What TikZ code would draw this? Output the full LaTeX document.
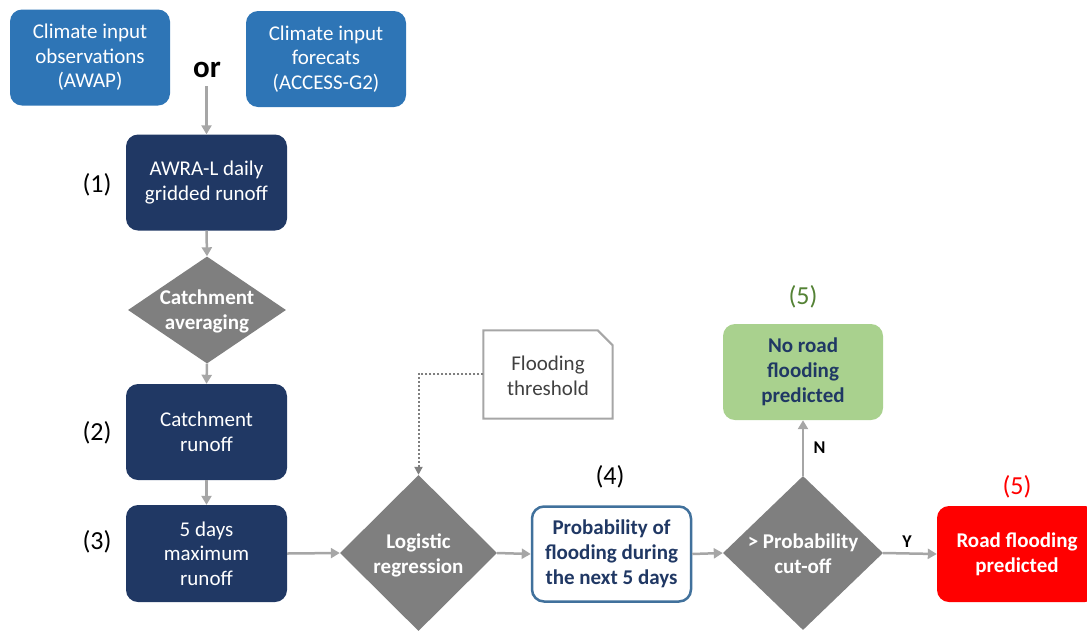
\documentclass[tikz,border=0pt]{standalone}
\usepackage{fontspec}
\setmainfont{Carlito}
\usetikzlibrary{shapes.geometric,arrows.meta}
\definecolor{midblue}{HTML}{2E75B6}
\definecolor{navy}{HTML}{203864}
\definecolor{dgray}{HTML}{7F7F7F}
\definecolor{agray}{HTML}{A6A6A6}
\definecolor{lgreen}{HTML}{A9D18E}
\definecolor{dgreen}{HTML}{548235}
\definecolor{bordblue}{HTML}{41719C}
\definecolor{txtgray}{HTML}{404040}
\definecolor{rred}{HTML}{FF0000}
\begin{document}
\begin{tikzpicture}[x=1pt,y=-1pt,
 box/.style={rounded corners=12pt, minimum width=160pt, minimum height=96pt, inner sep=0pt, align=center, font=\fontsize{21}{24.5}\selectfont},
 boldbox/.style={box, font=\bfseries\fontsize{21}{25}\selectfont},
 inbox/.style={box, fill=midblue, text=white},
 navybox/.style={box, fill=navy, text=white},
 dia/.style={diamond, fill=dgray, inner sep=0pt},
 diatext/.style={text=white, inner sep=0pt, align=center, font=\bfseries\fontsize{21}{25}\selectfont},
 arr/.style={draw=agray, line width=2.5pt, -{Triangle[length=9pt,width=10pt]}},
 num/.style={font=\fontsize{26}{30}\selectfont},
 yn/.style={font=\bfseries\fontsize{18}{20}\selectfont, text=black},
]
\useasboundingbox (0,0) rectangle (1087,630);
\clip (0,0) rectangle (1087,630);

\node[inbox] (obs) at (90,57.5) {Climate input\\observations\\(AWAP)};
\node[inbox] (fc) at (326,59) {Climate input\\forecats\\(ACCESS-G2)};
\node[font=\bfseries\fontsize{31}{31}\selectfont] (or) at (207,70) {or};
\node[navybox, minimum width=161pt] (awra) at (206.5,182.5) {AWRA-L daily\\gridded runoff};
\node[num] (n1) at (97,185) {(1)};
\node[dia, minimum width=158pt, minimum height=107pt] (avg) at (207,310) {};
\node[diatext] (avgT) at (207,311) {Catchment\\averaging};
\node[navybox, minimum width=161pt] (crun) at (206.5,432) {Catchment\\runoff};
\node[num] (n2) at (97,433) {(2)};
\node[navybox, minimum width=161pt, minimum height=97pt] (max5) at (206.5,553.5) {5 days\\maximum\\runoff};
\node[num] (n3) at (97,542) {(3)};
\node[dia, minimum width=157pt, minimum height=156pt] (log) at (418.5,553) {};
\node[diatext] (logT) at (418.5,555) {Logistic\\regression};

\node[minimum width=129pt, minimum height=88pt, inner sep=0pt, align=center, text=txtgray, font=\fontsize{21}{24.5}\selectfont] (thr) at (548,376) {Flooding\\threshold};
\draw[agray, line width=2pt] ([yshift=1.5pt]thr.south west) -- ([yshift=1.5pt]thr.north west) -- ([xshift=-15pt,yshift=1.5pt]thr.north east) -- ([yshift=-13.5pt]thr.north east) -- ([yshift=1.5pt]thr.south east) -- cycle;
\draw[dgray, line width=2pt, dotted, -{Triangle[length=8pt,width=8pt]}] ([yshift=2pt]thr.west) -| (log.north);

\node[boldbox, fill=white, draw=bordblue, line width=2.5pt, text=navy, minimum width=159pt, minimum height=95pt] (prob) at (611.5,554) {Probability of\\flooding during\\the next 5 days};
\node[num] (n4) at (610,477) {(4)};
\node[dia, minimum width=160pt, minimum height=154pt] (cut) at (803,553) {};
\node[diatext] (cutT) at (803,554) {> Probability\\cut-off};
\node[boldbox, fill=lgreen, text=navy] (nof) at (803,372) {No road\\flooding\\predicted};
\node[num, text=dgreen] (n5a) at (803,297) {(5)};
\node[boldbox, fill=rred, text=white] (rf) at (1017,554) {Road flooding\\predicted};
\node[num, text=rred] (n5b) at (1017,487) {(5)};

\draw[arr] ([yshift=-5pt]awra.north |- or.south) -- (awra.north);
\draw[arr] (awra.south) -- (avg.north);
\draw[arr] (avg.south) -- (crun.north);
\draw[arr] (crun.south) -- (max5.north);
\draw[arr] (max5.east) -- (log.west);
\draw[arr] (log.east) -- (prob.west);
\draw[arr] (prob.east) -- (cut.west);
\draw[arr] (cut.north) -- node[yn, right=6pt] (lblN) {N} (nof.south);
\draw[arr] (cut.east) -- node[yn, above=1pt, xshift=-3pt] (lblY) {Y} (rf.west);
\end{tikzpicture}
\end{document}
